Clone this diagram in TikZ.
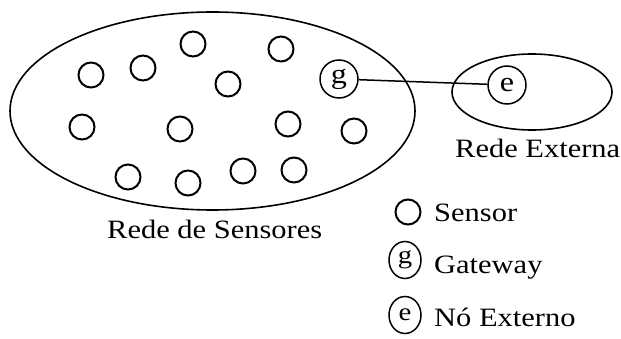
\documentclass[tikz,border=0pt]{standalone}
\usepackage{fontspec}
\usetikzlibrary{shapes.geometric}
\newfontfamily\lbl{Liberation Serif}[FakeStretch=1.15]
\begin{document}
\begin{tikzpicture}[x=1pt,y=-1pt,
  net/.style={draw,line width=1.6pt},
  sensor/.style={draw,circle,line width=2pt,minimum size=25pt,inner sep=0pt},
  special/.style={draw,circle,line width=1.5pt,minimum size=38pt,inner sep=0pt,font=\lbl\fontsize{28}{30}\selectfont},
  legspecial/.style={draw,ellipse,line width=1.5pt,minimum width=32pt,minimum height=37pt,inner sep=0pt,font=\lbl\fontsize{25}{27}\selectfont},
  lab/.style={anchor=base west,inner sep=0pt,font=\lbl\fontsize{26.5}{28}\selectfont},
  link/.style={draw,line width=1.5pt}]
\useasboundingbox (0,0) rectangle (621,339);
% networks
\node[net,ellipse,minimum width=405pt,minimum height=198pt,inner sep=0pt] (sn) at (212.5,111) {};
\node[net,ellipse,minimum width=160pt,minimum height=76pt,inner sep=0pt] (en) at (532,92) {};
% sensors
\node[sensor] (s1) at (193,44) {};
\node[sensor] (s2) at (281,49) {};
\node[sensor] (s3) at (91,75) {};
\node[sensor] (s4) at (143,68) {};
\node[sensor] (s5) at (228,84) {};
\node[sensor] (s6) at (82,127) {};
\node[sensor] (s7) at (180,129) {};
\node[sensor] (s8) at (288,124) {};
\node[sensor] (s9) at (354,131) {};
\node[sensor] (s10) at (128,177) {};
\node[sensor] (s11) at (188,183) {};
\node[sensor] (s12) at (243,171) {};
\node[sensor] (s13) at (294,170) {};
% gateway and external node
\node[special] (g) at (339,79) {g};
\node[special] (e) at (507,85) {e};
\draw[link] (g) -- (e);
% labels
\node[lab] (lsn) at (107,238) {Rede de Sensores};
\node[lab] (len) at (455,158) {Rede Externa};
% legend
\node[sensor] (ls) at (408,212) {};
\node[lab] (lst) at (434,222) {Sensor};
\node[legspecial] (lg) at (405,260) {g};
\node[lab] (lgt) at (434,273) {Gateway};
\node[legspecial] (le) at (405,315) {e};
\node[lab] (let) at (434,326) {Nó Externo};
\end{tikzpicture}
\end{document}
